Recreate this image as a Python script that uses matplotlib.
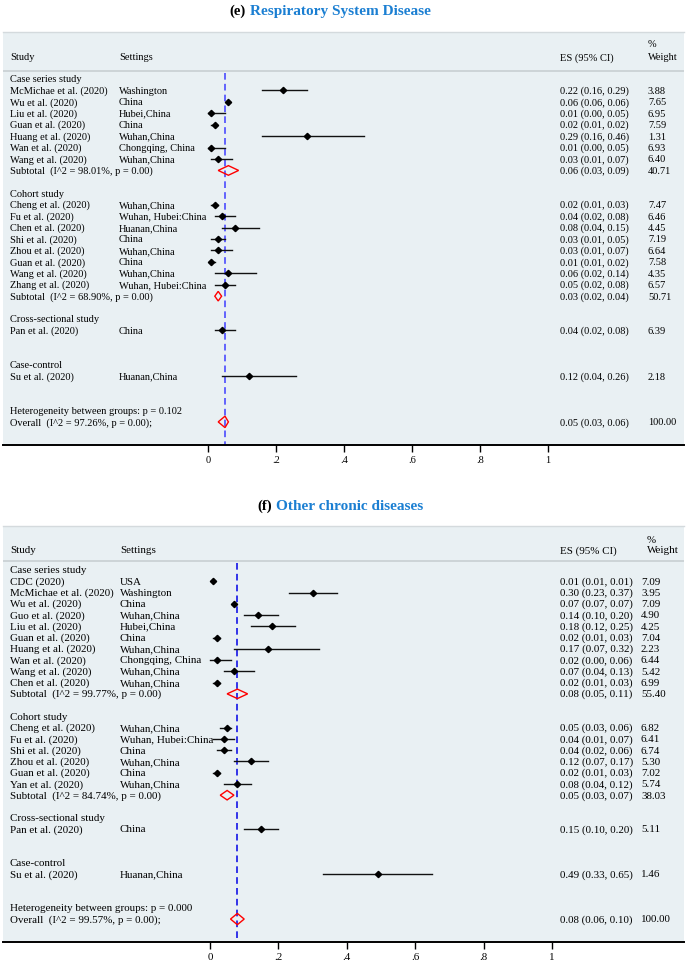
import matplotlib
matplotlib.use('Agg')
import matplotlib.pyplot as plt
from matplotlib import font_manager
from matplotlib.patches import Polygon

# ---------------- data: panel (e) Respiratory System Disease ----------------
e_groups = ["Case series study", "Cohort study", "Cross-sectional study", "Case-control"]
e_group = [0, 0, 0, 0, 0, 0, 0, 1, 1, 1, 1, 1, 1, 1, 1, 2, 3]
e_study = ["McMichae et al. (2020)", "Wu et al. (2020)", "Liu et al. (2020)", "Guan et al. (2020)",
           "Huang et al. (2020)", "Wan et al. (2020)", "Wang et al. (2020)",
           "Cheng et al. (2020)", "Fu et al. (2020)", "Chen et al. (2020)", "Shi et al. (2020)",
           "Zhou et al. (2020)", "Guan et al. (2020)", "Wang et al. (2020)", "Zhang et al. (2020)",
           "Pan et al. (2020)", "Su et al. (2020)"]
e_setting = ["Washington", "China", "Hubei,China", "China", "Wuhan,China", "Chongqing, China",
             "Wuhan,China", "Wuhan,China", "Wuhan, Hubei:China", "Huanan,China", "China",
             "Wuhan,China", "China", "Wuhan,China", "Wuhan, Hubei:China", "China", "Huanan,China"]
e_es = [0.22, 0.06, 0.01, 0.02, 0.29, 0.01, 0.03, 0.02, 0.04, 0.08, 0.03, 0.03, 0.01, 0.06, 0.05, 0.04, 0.12]
e_lo = [0.16, 0.06, 0.00, 0.01, 0.16, 0.00, 0.01, 0.01, 0.02, 0.04, 0.01, 0.01, 0.01, 0.02, 0.02, 0.02, 0.04]
e_hi = [0.29, 0.06, 0.05, 0.02, 0.46, 0.05, 0.07, 0.03, 0.08, 0.15, 0.05, 0.07, 0.02, 0.14, 0.08, 0.08, 0.26]
e_wt = ["3.88", "7.65", "6.95", "7.59", "1.31", "6.93", "6.40", "7.47", "6.46", "4.45", "7.19",
        "6.64", "7.58", "4.35", "6.57", "6.39", "2.18"]
e_sub_i2 = ["98.01%", "68.90%", None, None]
e_sub_es = [0.06, 0.03, None, None]
e_sub_lo = [0.03, 0.02, None, None]
e_sub_hi = [0.09, 0.04, None, None]
e_sub_wt = ["40.71", "50.71", None, None]
e_het_p = "0.102"
e_overall = (0.05, 0.03, 0.06)
e_overall_i2 = "97.26%"

# ---------------- data: panel (f) Other chronic diseases ----------------
f_groups = ["Case series study", "Cohort study", "Cross-sectional study", "Case-control"]
f_group = [0, 0, 0, 0, 0, 0, 0, 0, 0, 0, 1, 1, 1, 1, 1, 1, 2, 3]
f_study = ["CDC (2020)", "McMichae et al. (2020)", "Wu et al. (2020)", "Guo et al. (2020)",
           "Liu et al. (2020)", "Guan et al. (2020)", "Huang et al. (2020)", "Wan et al. (2020)",
           "Wang et al. (2020)", "Chen et al. (2020)",
           "Cheng et al. (2020)", "Fu et al. (2020)", "Shi et al. (2020)", "Zhou et al. (2020)",
           "Guan et al. (2020)", "Yan et al. (2020)", "Pan et al. (2020)", "Su et al. (2020)"]
f_setting = ["USA", "Washington", "China", "Wuhan,China", "Hubei,China", "China", "Wuhan,China",
             "Chongqing, China", "Wuhan,China", "Wuhan,China", "Wuhan,China", "Wuhan, Hubei:China",
             "China", "Wuhan,China", "China", "Wuhan,China", "China", "Huanan,China"]
f_es = [0.01, 0.30, 0.07, 0.14, 0.18, 0.02, 0.17, 0.02, 0.07, 0.02, 0.05, 0.04, 0.04, 0.12, 0.02, 0.08, 0.15, 0.49]
f_lo = [0.01, 0.23, 0.07, 0.10, 0.12, 0.01, 0.07, 0.00, 0.04, 0.01, 0.03, 0.01, 0.02, 0.07, 0.01, 0.04, 0.10, 0.33]
f_hi = [0.01, 0.37, 0.07, 0.20, 0.25, 0.03, 0.32, 0.06, 0.13, 0.03, 0.06, 0.07, 0.06, 0.17, 0.03, 0.12, 0.20, 0.65]
f_wt = ["7.09", "3.95", "7.09", "4.90", "4.25", "7.04", "2.23", "6.44", "5.42", "6.99",
        "6.82", "6.41", "6.74", "5.30", "7.02", "5.74", "5.11", "1.46"]
f_sub_i2 = ["99.77%", "84.74%", None, None]
f_sub_es = [0.08, 0.05, None, None]
f_sub_lo = [0.05, 0.03, None, None]
f_sub_hi = [0.11, 0.07, None, None]
f_sub_wt = ["55.40", "38.03", None, None]
f_het_p = "0.000"
f_overall = (0.08, 0.06, 0.10)
f_overall_i2 = "99.57%"

ticks = [0, 0.2, 0.4, 0.6, 0.8, 1]
tick_labels = ["0", ".2", ".4", ".6", ".8", "1"]

W, H = 686, 961
BG = '#e9f0f3'
TITLE_BLUE = '#1b7fd2'
SERIF = 'Liberation Serif'

names = {f.name for f in font_manager.fontManager.ttflist}
NARROW = 'Liberation Sans Narrow' if 'Liberation Sans Narrow' in names else SERIF

fig = plt.figure(figsize=(W / 100, H / 100), dpi=100)


def fmt_ci(es, lo, hi):
    return "%.2f (%.2f, %.2f)" % (es, lo, hi)


def panel(top_px, bot_px, zero_px, scale, fs, row0_px, row_px, hdr,
          groups, group, study, setting, es, lo, hi, wt,
          sub_i2, sub_es, sub_lo, sub_hi, sub_wt, het_p, overall, overall_i2,
          cols, dash_color):
    ax = fig.add_axes([3 / W, 1 - bot_px / H, 681 / W, (bot_px - top_px) / H])
    ax.set_facecolor(BG)
    x0 = (3 - zero_px) / scale
    x1 = (684 - zero_px) / scale
    ax.set_xlim(x0, x1)
    y_top = (top_px - row0_px) / row_px
    y_bot = (bot_px - row0_px) / row_px
    ax.set_ylim(y_bot, y_top)
    px = lambda p: (p - zero_px) / scale
    c_study, c_set, c_es, c_wt, c_pct = [px(c) for c in cols]
    tk = dict(fontsize=fs, family=SERIF, va='baseline')
    base = 0.3  # baseline sits a bit below the row centre

    def txt(x, y, s):
        ax.text(x, y + base, s, **tk)

    # header
    txt(c_study, hdr[0], "Study")
    txt(c_set, hdr[0], "Settings")
    txt(c_es, hdr[0], "ES (95% CI)")
    txt(c_pct, hdr[1], "%")
    txt(c_pct, hdr[0], "Weight")
    ax.axhline(hdr[2], color='#c8cfd2', lw=1.2)

    row = 0
    for g, gname in enumerate(groups):
        txt(c_study, row, gname)
        row += 1
        for i in range(len(study)):
            if group[i] != g:
                continue
            txt(c_study, row, study[i])
            txt(c_set, row, setting[i])
            txt(c_es, row, fmt_ci(es[i], lo[i], hi[i]))
            txt(c_wt, row, wt[i])
            ax.plot([lo[i], hi[i]], [row, row], color='#111111', lw=1.0, zorder=3)
            ax.plot(es[i], row, marker='D', ms=3.2, color='black', zorder=4)
            row += 1
        if sub_es[g] is not None:
            txt(c_study, row, "Subtotal  (I^2 = %s, p = 0.00)" % sub_i2[g])
            txt(c_es, row, fmt_ci(sub_es[g], sub_lo[g], sub_hi[g]))
            txt(c_wt, row, sub_wt[g])
            ax.add_patch(Polygon([(sub_lo[g], row), (sub_es[g], row - 0.42),
                                  (sub_hi[g], row), (sub_es[g], row + 0.42)],
                                 closed=True, fill=False, edgecolor='red', lw=1.0, zorder=4))
        row += 2

    txt(c_study, row, "Heterogeneity between groups: p = %s" % het_p)
    row += 1
    txt(c_study, row, "Overall  (I^2 = %s, p = 0.00);" % overall_i2)
    txt(c_es, row, fmt_ci(*overall))
    txt(c_wt, row, "100.00")
    o, olo, ohi = overall
    ax.add_patch(Polygon([(olo, row), (o, row - 0.5), (ohi, row), (o, row + 0.5)],
                         closed=True, fill=False, edgecolor='red', lw=1.0, zorder=4))

    ax.plot([o, o], [hdr[2] + 0.2, y_bot], color=dash_color, lw=1.2, ls=(0, (4, 2.5)), zorder=2)

    # axis
    for s in ['left', 'right']:
        ax.spines[s].set_visible(False)
    ax.spines['top'].set_color('#d4dadd')
    ax.spines['top'].set_linewidth(1.0)
    ax.spines['bottom'].set_linewidth(1.4)
    ax.set_yticks([])
    ax.set_xticks(ticks)
    ax.set_xticklabels(tick_labels, fontsize=fs, family=SERIF)
    ax.tick_params(axis='x', direction='out', length=5, width=1.0, pad=3)
    return ax


panel(32, 445, 208, 340, 7.5, 79, 11.43, (-1.92, -3.06, -0.72),
      e_groups, e_group, e_study, e_setting, e_es, e_lo, e_hi, e_wt,
      e_sub_i2, e_sub_es, e_sub_lo, e_sub_hi, e_sub_wt, e_het_p, e_overall, e_overall_i2,
      (10, 119, 560, 648, 648), '#4b4bff')

panel(526, 942, 210, 342, 7.9, 570, 11.26, (-1.78, -2.66, -0.8),
      f_groups, f_group, f_study, f_setting, f_es, f_lo, f_hi, f_wt,
      f_sub_i2, f_sub_es, f_sub_lo, f_sub_hi, f_sub_wt, f_het_p, f_overall, f_overall_i2,
      (10, 120, 560, 641, 647), '#1414e6')

# titles
fig.text(246 / W, 1 - 11 / H, "(e)", ha='right', va='center', fontsize=10.5,
         family=SERIF, weight='bold', color='black')
fig.text(250 / W, 1 - 11 / H, "Respiratory System Disease", ha='left', va='center',
         fontsize=11, family=NARROW, weight='bold', color=TITLE_BLUE)
fig.text(272 / W, 1 - 506 / H, "(f)", ha='right', va='center', fontsize=10.5,
         family=SERIF, weight='bold', color='black')
fig.text(276 / W, 1 - 506 / H, "Other chronic diseases", ha='left', va='center',
         fontsize=11, family=NARROW, weight='bold', color=TITLE_BLUE)

fig.savefig('out.png', dpi=100, facecolor='white')
